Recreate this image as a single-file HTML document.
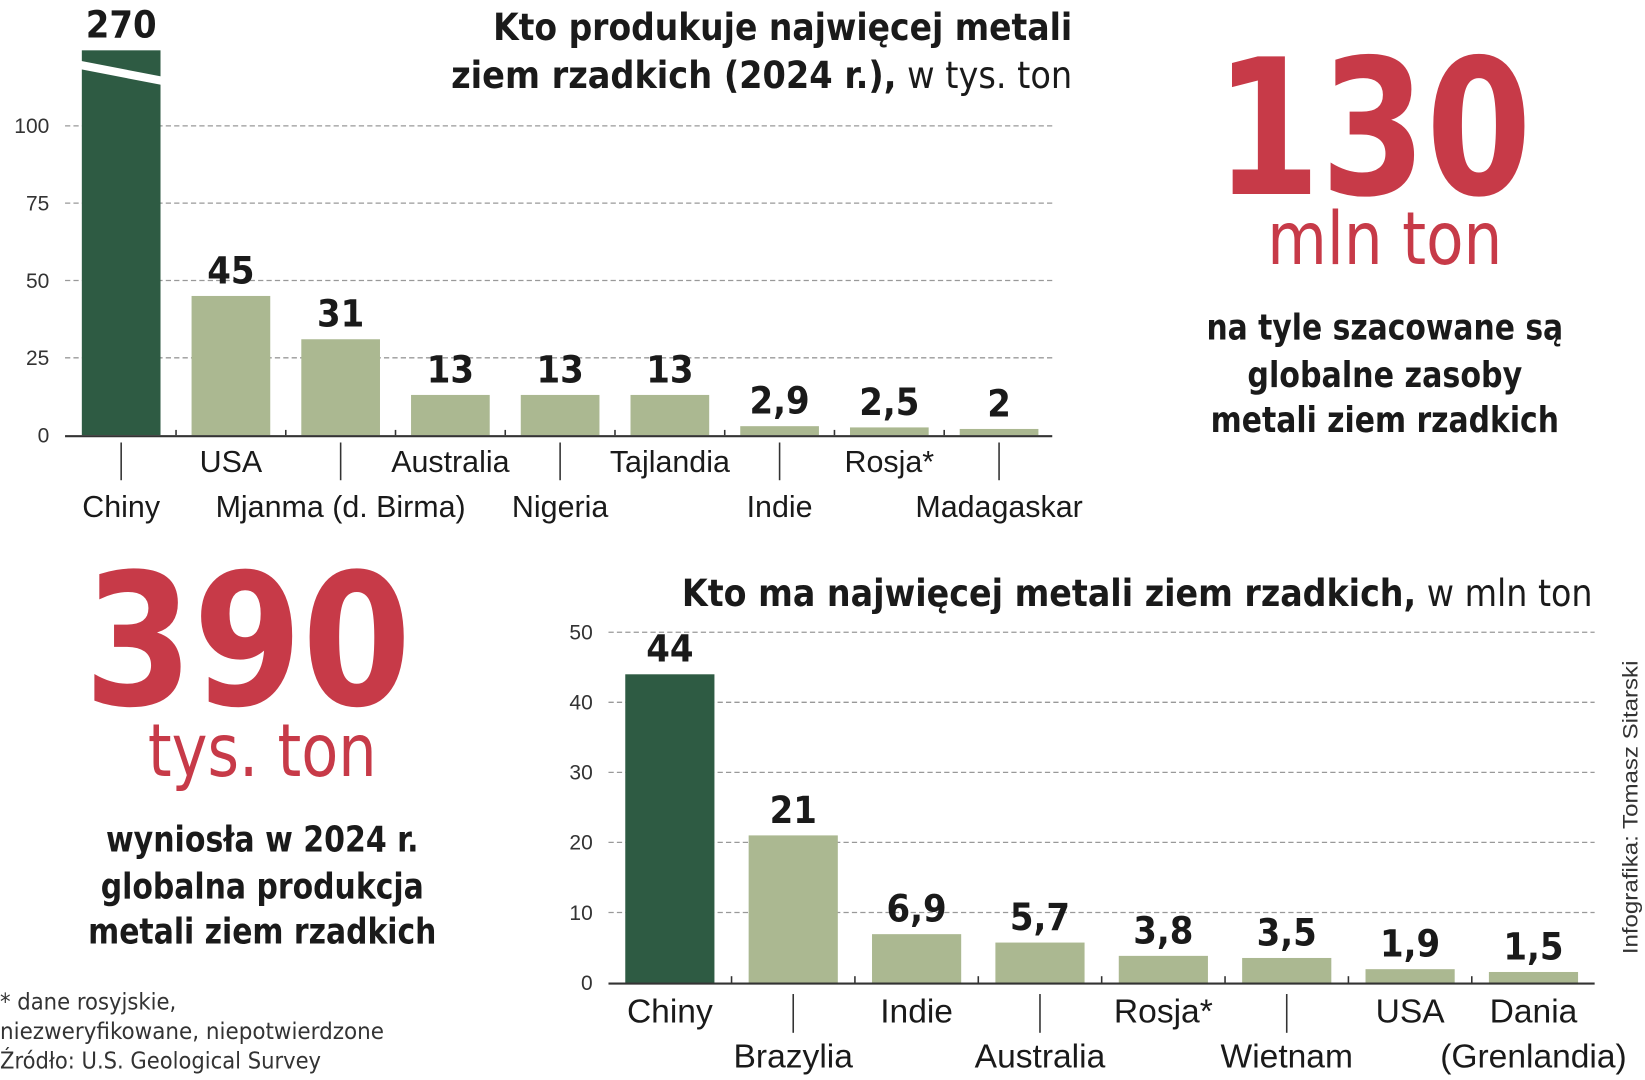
<!DOCTYPE html>
<html><head><meta charset="utf-8"><style>
html,body{margin:0;padding:0;background:#fff;width:1645px;height:1080px;overflow:hidden}
svg{display:block}
.cond{font-family:"DejaVu Sans Condensed","Liberation Sans",sans-serif}
.lab{font-family:"Liberation Sans",sans-serif}
</style></head><body>
<svg id="chart" width="1645" height="1080" viewBox="0 0 1568 1030" preserveAspectRatio="none" xmlns="http://www.w3.org/2000/svg">
<g id="top"></g>
<g id="bot"></g>
<text class="cond" x="1022" y="38" text-anchor="end" font-size="36" font-weight="bold" fill="#1a1a1a" textLength="552" lengthAdjust="spacingAndGlyphs">Kto produkuje najwięcej metali</text>
<text class="cond" x="1022" y="84" text-anchor="end" font-size="36" fill="#1a1a1a" textLength="592" lengthAdjust="spacingAndGlyphs"><tspan font-weight="bold">ziem rzadkich (2024 r.),</tspan> <tspan font-weight="normal">w tys. ton</tspan></text>
<text class="cond" x="1518" y="578" text-anchor="end" font-size="36" fill="#1a1a1a" textLength="868" lengthAdjust="spacingAndGlyphs"><tspan font-weight="bold">Kto ma najwięcej metali ziem rzadkich,</tspan> <tspan>w mln ton</tspan></text>
<text class="cond" x="1158" y="185" font-size="180" font-weight="bold" fill="#c73a48" textLength="302" lengthAdjust="spacingAndGlyphs">130</text>
<text class="cond" x="1320" y="252" text-anchor="middle" font-size="70" fill="#c73a48" textLength="224" lengthAdjust="spacingAndGlyphs">mln ton</text>
<g class="cond" font-size="34" font-weight="bold" fill="#1a1a1a" text-anchor="middle">
<text x="1320" y="324" textLength="340" lengthAdjust="spacingAndGlyphs">na tyle szacowane są</text>
<text x="1320" y="369" textLength="262" lengthAdjust="spacingAndGlyphs">globalne zasoby</text>
<text x="1320" y="412" textLength="332" lengthAdjust="spacingAndGlyphs">metali ziem rzadkich</text>
</g>
<text class="cond" x="80" y="672" font-size="175" font-weight="bold" fill="#c73a48" textLength="312" lengthAdjust="spacingAndGlyphs">390</text>
<text class="cond" x="250" y="740" text-anchor="middle" font-size="70" fill="#c73a48" textLength="218" lengthAdjust="spacingAndGlyphs">tys. ton</text>
<g class="cond" font-size="34" font-weight="bold" fill="#1a1a1a" text-anchor="middle">
<text x="250" y="812" textLength="298" lengthAdjust="spacingAndGlyphs">wyniosła w 2024 r.</text>
<text x="250" y="857" textLength="308" lengthAdjust="spacingAndGlyphs">globalna produkcja</text>
<text x="250" y="900" textLength="332" lengthAdjust="spacingAndGlyphs">metali ziem rzadkich</text>
</g>
<g class="cond" font-size="22" fill="#333">
<text x="0" y="963" textLength="168" lengthAdjust="spacingAndGlyphs">* dane rosyjskie,</text>
<text x="0" y="991" textLength="366" lengthAdjust="spacingAndGlyphs">niezweryfikowane, niepotwierdzone</text>
<text x="0" y="1019" textLength="306" lengthAdjust="spacingAndGlyphs">Źródło: U.S. Geological Survey</text>
</g>
<text class="lab" transform="translate(1561,910) rotate(-90)" font-size="20" fill="#333" textLength="280" lengthAdjust="spacingAndGlyphs">Infografika: Tomasz Sitarski</text>
</svg>
<script>
const topCats = ["Chiny","USA","Mjanma (d. Birma)","Australia","Nigeria","Tajlandia","Indie","Rosja*","Madagaskar"];
const topVals = [270,45,31,13,13,13,2.9,2.5,2];
const topLabels = ["270","45","31","13","13","13","2,9","2,5","2"];
const topTicks = [0,25,50,75,100];
const botCats = [["Chiny"],["Brazylia"],["Indie"],["Australia"],["Rosja*"],["Wietnam"],["USA"],["Dania","(Grenlandia)"]];
const botVals = [44,21,6.9,5.7,3.8,3.5,1.9,1.5];
const botLabels = ["44","21","6,9","5,7","3,8","3,5","1,9","1,5"];
const botTicks = [0,10,20,30,40,50];

const NS="http://www.w3.org/2000/svg";
function mk(parent,tag,attrs,txt){const e=document.createElementNS(NS,tag);for(const k in attrs)e.setAttribute(k,attrs[k]);if(txt!==undefined)e.textContent=txt;parent.appendChild(e);return e;}

// top chart
(function(){
  const g=document.getElementById('top');
  const y0=415, ppu=2.95, x0=62, x1=1003, pitch=104.6, c0=115.5, bw=75, cap=48;
  const ys=v=>Math.max(cap,y0-v*ppu);
  const xs=i=>c0+i*pitch;
  topTicks.forEach(t=>{
    if(t>0){const l=mk(g,'line',{x1:x0,x2:x1,y1:y0-t*ppu,y2:y0-t*ppu,stroke:'#999','stroke-width':1.2,'stroke-dasharray':'5,3'});
    
    }
    const tx=mk(g,'text',{x:47,y:y0-t*ppu+7,'text-anchor':'end','font-size':20,fill:'#333','class':'lab'},String(t));
    
    
  });
  topVals.forEach((v,i)=>{
    const yt=ys(v);
    const r=mk(g,'rect',{x:xs(i)-bw/2,y:yt,width:bw,height:y0-yt,fill:i===0?'#2e5b43':'#abb891'});
    
    
    if(y0-v*ppu<cap){
      const b=mk(g,'polygon',{points:`${xs(i)-bw/2-1},${cap+10} ${xs(i)+bw/2+1},${cap+25} ${xs(i)+bw/2+1},${cap+33} ${xs(i)-bw/2-1},${cap+18}`,fill:'#fff'});
      
      
    }
    const t=mk(g,'text',{x:xs(i),y:yt-12,'text-anchor':'middle','font-size':36,'font-weight':'bold',fill:'#1a1a1a','class':'cond'},topLabels[i]);
    
    
    const lower=i%2===0;
    const cl=mk(g,'text',{x:xs(i),y:lower?493:450,'text-anchor':'middle','font-size':29,fill:'#1a1a1a','class':'lab'},topCats[i]);
    
    
    if(lower){const s=mk(g,'line',{x1:xs(i),x2:xs(i),y1:422,y2:458,stroke:'#333','stroke-width':1.5});
      
      }
    if(i>0){const tk=mk(g,'line',{x1:xs(i)-pitch/2,x2:xs(i)-pitch/2,y1:y0-5,y2:y0,stroke:'#333','stroke-width':1.5});
      
      }
  });
  const ax=mk(g,'line',{x1:x0,x2:x1,y1:y0+1,y2:y0+1,stroke:'#333','stroke-width':2});
  
  
})();

// bottom chart
(function(){
  const g=document.getElementById('bot');
  const y0=937, ppu=6.68, x0=580, x1=1520, pitch=117.6, c0=638.5, bw=85;
  const ys=v=>y0-v*ppu;
  const xs=i=>c0+i*pitch;
  botTicks.forEach(t=>{
    if(t>0){const l=mk(g,'line',{x1:x0,x2:x1,y1:ys(t),y2:ys(t),stroke:'#999','stroke-width':1.2,'stroke-dasharray':'5,3'});
    
    }
    const tx=mk(g,'text',{x:565,y:ys(t)+7,'text-anchor':'end','font-size':20,fill:'#333','class':'lab'},String(t));
    
    
  });
  botVals.forEach((v,i)=>{
    const r=mk(g,'rect',{x:xs(i)-bw/2,y:ys(v),width:bw,height:y0-ys(v),fill:i===0?'#2e5b43':'#abb891'});
    
    
    const t=mk(g,'text',{x:xs(i),y:ys(v)-12,'text-anchor':'middle','font-size':36,'font-weight':'bold',fill:'#1a1a1a','class':'cond'},botLabels[i]);
    
    
    const lower=i%2===1;
    botCats[i].forEach((s,j)=>{
      const yy=(botCats[i].length>1)?(j===0?975:1018):(lower?1018:975);
      const cl=mk(g,'text',{x:xs(i),y:yy,'text-anchor':'middle','font-size':32,fill:'#1a1a1a','class':'lab'},s);
      
      
    });
    if(lower&&botCats[i].length===1){const s=mk(g,'line',{x1:xs(i),x2:xs(i),y1:948,y2:985,stroke:'#333','stroke-width':1.5});
      
      }
    if(i>0){const tk=mk(g,'line',{x1:xs(i)-pitch/2,x2:xs(i)-pitch/2,y1:y0-6,y2:y0,stroke:'#333','stroke-width':1.5});
      
      }
  });
  const ax=mk(g,'line',{x1:x0,x2:x1,y1:y0+1,y2:y0+1,stroke:'#333','stroke-width':2});
  
  
})();
</script>
</body></html>
